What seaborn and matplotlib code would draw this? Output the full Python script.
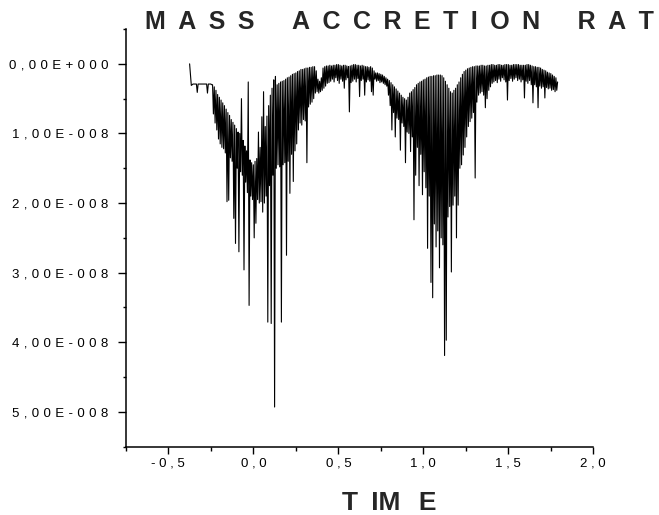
import numpy as np
import matplotlib
matplotlib.use("Agg")
import matplotlib.pyplot as plt
import seaborn as sns
from matplotlib.ticker import FixedLocator, FuncFormatter

# time axis and accretion rate (in units of 1e-8)
time = [
    -0.375, -0.370, -0.365, -0.360, -0.355, -0.350, -0.345, -0.340, -0.335, -0.330,
    -0.325, -0.320, -0.315, -0.310, -0.305, -0.300, -0.295, -0.290, -0.285, -0.280,
    -0.275, -0.270, -0.265, -0.260, -0.255, -0.250, -0.245, -0.240, -0.235, -0.230,
    -0.225, -0.220, -0.215, -0.210, -0.205, -0.200, -0.195, -0.190, -0.185, -0.180,
    -0.175, -0.170, -0.165, -0.160, -0.155, -0.150, -0.145, -0.140, -0.135, -0.130,
    -0.125, -0.120, -0.115, -0.110, -0.105, -0.100, -0.095, -0.090, -0.085, -0.080,
    -0.075, -0.070, -0.065, -0.060, -0.055, -0.050, -0.045, -0.040, -0.035, -0.030,
    -0.025, -0.020, -0.015, -0.010, -0.005, 0.000, 0.005, 0.010, 0.015, 0.020,
    0.025, 0.030, 0.035, 0.040, 0.045, 0.050, 0.055, 0.060, 0.065, 0.070,
    0.075, 0.080, 0.085, 0.090, 0.095, 0.100, 0.105, 0.110, 0.115, 0.120,
    0.125, 0.130, 0.135, 0.140, 0.145, 0.150, 0.155, 0.160, 0.165, 0.170,
    0.175, 0.180, 0.185, 0.190, 0.195, 0.200, 0.205, 0.210, 0.215, 0.220,
    0.225, 0.230, 0.235, 0.240, 0.245, 0.250, 0.255, 0.260, 0.265, 0.270,
    0.275, 0.280, 0.285, 0.290, 0.295, 0.300, 0.305, 0.310, 0.315, 0.320,
    0.325, 0.330, 0.335, 0.340, 0.345, 0.350, 0.355, 0.360, 0.365, 0.370,
    0.375, 0.380, 0.385, 0.390, 0.395, 0.400, 0.405, 0.410, 0.415, 0.420,
    0.425, 0.430, 0.435, 0.440, 0.445, 0.450, 0.455, 0.460, 0.465, 0.470,
    0.475, 0.480, 0.485, 0.490, 0.495, 0.500, 0.505, 0.510, 0.515, 0.520,
    0.525, 0.530, 0.535, 0.540, 0.545, 0.550, 0.555, 0.560, 0.565, 0.570,
    0.575, 0.580, 0.585, 0.590, 0.595, 0.600, 0.605, 0.610, 0.615, 0.620,
    0.625, 0.630, 0.635, 0.640, 0.645, 0.650, 0.655, 0.660, 0.665, 0.670,
    0.675, 0.680, 0.685, 0.690, 0.695, 0.700, 0.705, 0.710, 0.715, 0.720,
    0.725, 0.730, 0.735, 0.740, 0.745, 0.750, 0.755, 0.760, 0.765, 0.770,
    0.775, 0.780, 0.785, 0.790, 0.795, 0.800, 0.805, 0.810, 0.815, 0.820,
    0.825, 0.830, 0.835, 0.840, 0.845, 0.850, 0.855, 0.860, 0.865, 0.870,
    0.875, 0.880, 0.885, 0.890, 0.895, 0.900, 0.905, 0.910, 0.915, 0.920,
    0.925, 0.930, 0.935, 0.940, 0.945, 0.950, 0.955, 0.960, 0.965, 0.970,
    0.975, 0.980, 0.985, 0.990, 0.995, 1.000, 1.005, 1.010, 1.015, 1.020,
    1.025, 1.030, 1.035, 1.040, 1.045, 1.050, 1.055, 1.060, 1.065, 1.070,
    1.075, 1.080, 1.085, 1.090, 1.095, 1.100, 1.105, 1.110, 1.115, 1.120,
    1.125, 1.130, 1.135, 1.140, 1.145, 1.150, 1.155, 1.160, 1.165, 1.170,
    1.175, 1.180, 1.185, 1.190, 1.195, 1.200, 1.205, 1.210, 1.215, 1.220,
    1.225, 1.230, 1.235, 1.240, 1.245, 1.250, 1.255, 1.260, 1.265, 1.270,
    1.275, 1.280, 1.285, 1.290, 1.295, 1.300, 1.305, 1.310, 1.315, 1.320,
    1.325, 1.330, 1.335, 1.340, 1.345, 1.350, 1.355, 1.360, 1.365, 1.370,
    1.375, 1.380, 1.385, 1.390, 1.395, 1.400, 1.405, 1.410, 1.415, 1.420,
    1.425, 1.430, 1.435, 1.440, 1.445, 1.450, 1.455, 1.460, 1.465, 1.470,
    1.475, 1.480, 1.485, 1.490, 1.495, 1.500, 1.505, 1.510, 1.515, 1.520,
    1.525, 1.530, 1.535, 1.540, 1.545, 1.550, 1.555, 1.560, 1.565, 1.570,
    1.575, 1.580, 1.585, 1.590, 1.595, 1.600, 1.605, 1.610, 1.615, 1.620,
    1.625, 1.630, 1.635, 1.640, 1.645, 1.650, 1.655, 1.660, 1.665, 1.670,
    1.675, 1.680, 1.685, 1.690, 1.695, 1.700, 1.705, 1.710, 1.715, 1.720,
    1.725, 1.730, 1.735, 1.740, 1.745, 1.750, 1.755, 1.760, 1.765, 1.770,
    1.775, 1.780, 1.785, 1.790,
]

rate_e8 = [
    0.00, 0.15, 0.31, 0.30, 0.29, 0.29, 0.29, 0.29, 0.29, 0.41,
    0.29, 0.29, 0.29, 0.29, 0.29, 0.29, 0.29, 0.29, 0.29, 0.29,
    0.29, 0.42, 0.29, 0.29, 0.29, 0.29, 0.30, 0.30, 0.72, 0.33,
    0.85, 0.38, 0.95, 0.44, 1.08, 0.48, 1.15, 0.52, 1.20, 0.56,
    1.22, 0.60, 1.28, 0.65, 1.98, 0.70, 1.96, 0.74, 1.35, 0.80,
    1.40, 0.84, 2.22, 0.88, 2.58, 0.93, 1.50, 0.98, 2.70, 1.00,
    1.55, 0.50, 1.60, 1.10, 2.96, 1.18, 1.70, 1.25, 1.85, 0.26,
    3.47, 1.38, 1.90, 1.42, 1.95, 1.45, 2.50, 1.40, 2.29, 1.36,
    1.95, 0.98, 2.00, 1.20, 1.98, 0.76, 2.13, 0.40, 2.00, 0.90,
    1.90, 0.75, 3.71, 0.60, 1.75, 0.45, 3.73, 0.35, 1.60, 0.23,
    4.93, 0.18, 1.50, 0.30, 1.45, 0.28, 1.48, 0.26, 3.71, 0.25,
    1.45, 0.24, 1.42, 0.22, 2.75, 0.20, 1.40, 0.19, 1.86, 0.17,
    1.30, 0.15, 1.69, 0.14, 1.25, 0.13, 1.15, 0.11, 0.95, 0.10,
    0.85, 0.08, 0.88, 0.08, 0.80, 0.07, 0.82, 0.06, 1.42, 0.06,
    0.62, 0.05, 0.58, 0.05, 0.55, 0.04, 0.50, 0.04, 0.42, 0.10,
    0.40, 0.22, 0.42, 0.25, 0.40, 0.20, 0.38, 0.06, 0.35, 0.04,
    0.32, 0.03, 0.28, 0.03, 0.27, 0.02, 0.25, 0.03, 0.22, 0.02,
    0.26, 0.02, 0.20, 0.01, 0.24, 0.01, 0.28, 0.02, 0.22, 0.03,
    0.25, 0.02, 0.35, 0.02, 0.23, 0.03, 0.20, 0.04, 0.69, 0.03,
    0.27, 0.02, 0.25, 0.01, 0.22, 0.01, 0.26, 0.02, 0.21, 0.02,
    0.47, 0.03, 0.24, 0.02, 0.22, 0.03, 0.45, 0.04, 0.26, 0.04,
    0.23, 0.05, 0.25, 0.04, 0.40, 0.06, 0.45, 0.10, 0.22, 0.13,
    0.25, 0.13, 0.24, 0.14, 0.27, 0.15, 0.26, 0.16, 0.28, 0.18,
    0.30, 0.20, 0.32, 0.22, 0.45, 0.24, 0.60, 0.27, 0.95, 0.30,
    0.70, 0.33, 1.05, 0.36, 0.78, 0.39, 0.80, 0.42, 1.24, 0.45,
    0.85, 0.48, 0.90, 0.50, 1.42, 0.52, 0.98, 0.48, 1.00, 0.42,
    1.26, 0.40, 1.05, 0.37, 2.24, 0.34, 1.60, 0.30, 1.20, 0.28,
    1.75, 0.26, 1.30, 0.25, 1.88, 0.23, 1.55, 0.22, 1.78, 0.20,
    2.65, 0.19, 1.90, 0.18, 3.14, 0.18, 3.36, 0.17, 2.30, 0.17,
    2.63, 0.16, 2.40, 0.16, 2.93, 0.16, 2.50, 0.17, 2.60, 0.20,
    4.19, 0.25, 3.97, 0.30, 2.20, 0.35, 2.05, 0.40, 2.99, 0.42,
    2.03, 0.38, 1.90, 0.35, 2.50, 0.30, 2.03, 0.26, 1.50, 0.20,
    1.45, 0.15, 1.31, 0.11, 1.20, 0.09, 1.05, 0.07, 0.90, 0.06,
    0.83, 0.05, 0.78, 0.04, 0.70, 0.04, 1.64, 0.03, 0.55, 0.03,
    0.45, 0.03, 0.42, 0.02, 0.40, 0.02, 0.45, 0.03, 0.63, 0.03,
    0.50, 0.02, 0.38, 0.02, 0.33, 0.01, 0.28, 0.01, 0.26, 0.02,
    0.24, 0.02, 0.27, 0.01, 0.22, 0.01, 0.25, 0.02, 0.20, 0.02,
    0.23, 0.01, 0.26, 0.01, 0.52, 0.01, 0.24, 0.02, 0.21, 0.02,
    0.25, 0.01, 0.22, 0.01, 0.20, 0.01, 0.24, 0.01, 0.22, 0.02,
    0.26, 0.02, 0.23, 0.02, 0.49, 0.02, 0.25, 0.01, 0.28, 0.01,
    0.24, 0.02, 0.30, 0.03, 0.56, 0.04, 0.30, 0.04, 0.33, 0.05,
    0.63, 0.05, 0.32, 0.06, 0.35, 0.08, 0.33, 0.09, 0.49, 0.10,
    0.34, 0.12, 0.36, 0.13, 0.35, 0.14, 0.38, 0.16, 0.37, 0.18,
    0.40, 0.20, 0.38, 0.26,
]

x_major = [-0.5, 0.0, 0.5, 1.0, 1.5, 2.0]
x_minor = [-0.75, -0.25, 0.25, 0.75, 1.25, 1.75]
y_major = [0.0, 1e-8, 2e-8, 3e-8, 4e-8, 5e-8]
y_minor = [-0.5e-8, 0.5e-8, 1.5e-8, 2.5e-8, 3.5e-8, 4.5e-8, 5.5e-8]

title_words = ["MASS", "ACCRETION", "RATE"]
xlabel_text = "T\u2002IM\u2002\u2009E"

sns.set_style("ticks")
plt.rcParams['font.family'] = ['Liberation Sans', 'DejaVu Sans']

fig = plt.figure(figsize=(6.59, 5.15), dpi=100)
ax = fig.add_axes([0.191, 0.1326, 0.7093, 0.811])

rate = np.array(rate_e8) * 1e-8
sns.lineplot(x=time, y=rate, ax=ax, color='black', linewidth=0.8,
             estimator=None, errorbar=None, sort=False)

ax.set_xlim(-0.75, 2.0)
ax.set_ylim(5.5e-8, -0.5e-8)
ax.set_xlabel("")
ax.set_ylabel("")

ax.xaxis.set_major_locator(FixedLocator(x_major))
ax.xaxis.set_minor_locator(FixedLocator(x_minor))
ax.yaxis.set_major_locator(FixedLocator(y_major))
ax.yaxis.set_minor_locator(FixedLocator(y_minor))


def fmt_x(v, pos):
    return " ".join(f"{v:.1f}".replace(".", ","))


def fmt_y(v, pos):
    mant, ex = f"{v:.2E}".split("E")
    ex = ex[0] + ex[1:].zfill(3)
    return "\u2004".join(mant.replace(".", ",") + "E" + ex)


ax.xaxis.set_major_formatter(FuncFormatter(fmt_x))
ax.yaxis.set_major_formatter(FuncFormatter(fmt_y))

ax.tick_params(which='both', direction='out', width=1.0, color='black',
               labelsize=9.5, labelcolor='black')
ax.tick_params(axis='y', which='major', length=5.5, pad=7)
ax.tick_params(axis='y', which='minor', length=2.5)
ax.tick_params(axis='x', which='major', length=4.8, pad=3)
ax.tick_params(axis='x', which='minor', length=2.9)

sns.despine(ax=ax)
for side in ['left', 'bottom']:
    ax.spines[side].set_linewidth(1.1)
    ax.spines[side].set_color('black')

# spaced-out title, cut at the right edge as in the original
title = "\u2002\u2002\u2002".join("\u2002".join(w) for w in title_words)
fig.text(145 / 659, 1 - 29.3 / 515, title, fontsize=18, fontweight='bold',
         ha='left', va='baseline')
fig.text(342 / 659, 1 - 510 / 515, xlabel_text, fontsize=19,
         fontweight='bold', ha='left', va='baseline')

fig.savefig('out.png', dpi=100)
